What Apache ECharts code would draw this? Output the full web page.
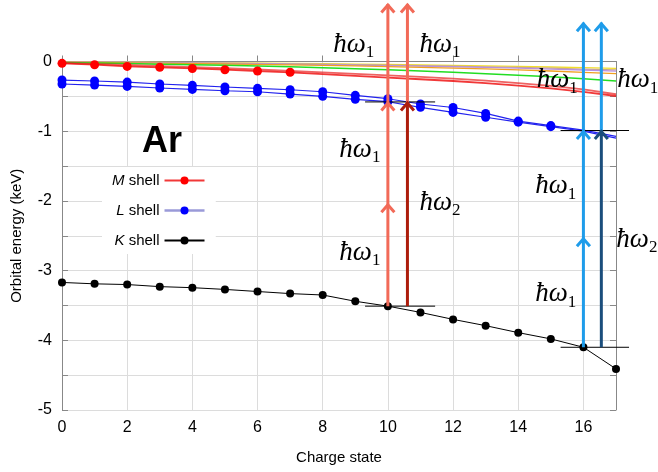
<!DOCTYPE html>
<html><head><meta charset="utf-8">
<script src="https://cdn.jsdelivr.net/npm/echarts@6/dist/echarts.min.js"></script>
<style>html,body{margin:0;padding:0;background:#fff}#c{width:658px;height:472px}</style>
</head><body><div id="c"></div>
<script>
// ---------- data ----------
const charge = [0,1,2,3,4,5,6,7,8,9,10,11,12,13,14,15,16,17];
const xTicks = [0,2,4,6,8,10,12,14,16];
const yTicks = [0,-1,-2,-3,-4,-5];

const K_shell = [-3.17,-3.19,-3.20,-3.23,-3.245,-3.27,-3.30,-3.33,-3.35,-3.44,-3.51,-3.60,-3.70,-3.79,-3.89,-3.98,-4.10,-4.41];
const L_upper = [-0.266,-0.28,-0.295,-0.323,-0.342,-0.366,-0.385,-0.405,-0.434,-0.486,-0.534,-0.61,-0.66,-0.745,-0.855,-0.92,-0.985,-1.075];
const L_lower = [-0.323,-0.338,-0.357,-0.38,-0.40,-0.42,-0.434,-0.467,-0.50,-0.543,-0.577,-0.658,-0.73,-0.80,-0.87,-0.935,-1.0,-1.10];
const L_pointCount = 16;
const M_main  = [-0.026,-0.046,-0.07,-0.083,-0.10,-0.118,-0.137,-0.155,-0.18,-0.205,-0.23,-0.255,-0.28,-0.31,-0.345,-0.385,-0.435,-0.495];
const M_other = [-0.02,-0.035,-0.05,-0.065,-0.08,-0.097,-0.115,-0.135,-0.155,-0.178,-0.20,-0.222,-0.245,-0.275,-0.31,-0.35,-0.40,-0.47];
const M_pointCount = 8;
const N_green  = [-0.015,-0.022,-0.03,-0.038,-0.046,-0.055,-0.065,-0.077,-0.09,-0.103,-0.118,-0.135,-0.155,-0.175,-0.197,-0.22,-0.248,-0.28];
const N_orange = [-0.01,-0.014,-0.019,-0.024,-0.03,-0.036,-0.042,-0.049,-0.056,-0.064,-0.073,-0.083,-0.094,-0.106,-0.12,-0.136,-0.155,-0.175];
const N_purple = [-0.005,-0.009,-0.013,-0.017,-0.022,-0.027,-0.032,-0.038,-0.044,-0.051,-0.058,-0.066,-0.075,-0.085,-0.096,-0.108,-0.122,-0.137];
const N_tan    = [-0.004,-0.007,-0.01,-0.014,-0.018,-0.022,-0.027,-0.032,-0.038,-0.044,-0.051,-0.058,-0.066,-0.075,-0.085,-0.096,-0.108,-0.12];
const N_yellow = [-0.004,-0.006,-0.009,-0.012,-0.015,-0.019,-0.023,-0.027,-0.032,-0.037,-0.042,-0.048,-0.055,-0.062,-0.07,-0.079,-0.089,-0.10];

// transitions (energies in keV)
const arrowX    = [10,    10.6,  10.6,  16,    16.55, 16.55];
const arrowFrom = [-3.51, -3.51, -0.58, -4.10, -4.10, -0.99];
const arrowTo   = [0.826, -0.58, 0.826, 0.557, -0.99, 0.557];
const headX = [10, 10, 10, 10.6, 10.6, 16, 16, 16, 16.55, 16.55];
const headY = [-2.04, -0.58, 0.826, -0.58, 0.826, -2.53, -0.99, 0.557, -0.99, 0.557];
const refX1 = [9.3, 9.3, 15.3, 15.3];
const refX2 = [11.45, 11.45, 17.4, 17.4];
const refY  = [-3.51, -0.58, -4.10, -0.99];

const labelX   = [8.95, 11.6, 9.14, 9.14, 11.6, 15.2, 17.67, 15.15, 15.15, 17.64];
const labelY   = [0.24, 0.24, -1.27, -2.74, -2.03, -0.27, -0.27, -1.79, -3.34, -2.56];
const labelSub = ['1','1','1','1','2','1','1','1','1','2'];

// ---------- styles ----------
const arrowColors = ['#f26a58','#ad1d0c','#f26a58','#1e9cea','#1b4e7c','#1e9cea'];
const headColors  = ['#f26a58','#f26a58','#f26a58','#ad1d0c','#f26a58','#1e9cea','#1e9cea','#1e9cea','#1b4e7c','#1e9cea'];
const SANS = 'Liberation Sans, Arial, Helvetica, sans-serif';
const SERIF = 'Liberation Serif, Times New Roman, DejaVu Serif, serif';

function pts(arr, count) {
  return charge.map((x, i) => count == null || i < count
    ? { value: [x, arr[i]] }
    : { value: [x, arr[i]], symbol: 'none' });
}
function thinLine(name, arr, color, width, opacity) {
  return { name, type: 'line', data: pts(arr), symbol: 'none', silent: true,
    lineStyle: { color, width, opacity: opacity == null ? 1 : opacity }, z: 2 };
}

const chart = echarts.init(document.getElementById('c'), null, { renderer: 'canvas' });
chart.setOption({
  animation: false,
  backgroundColor: '#fff',
  title: { text: 'Ar', left: 137, top: 119,
    textStyle: { fontFamily: SANS, fontWeight: 'bold', fontSize: 36, color: '#000' } },
  grid: { left: 62, right: 42, top: 61.5, bottom: 62, containLabel: false, outerBoundsMode: 'none' },
  legend: {
    data: [
      { name: 'M shell' },
      { name: 'L shell', lineStyle: { color: '#9a9ad8', width: 2.5 }, itemStyle: { color: '#0000ff' } },
      { name: 'K shell' }
    ],
    orient: 'vertical', align: 'right', left: 102, top: 167,
    itemWidth: 40, itemHeight: 10, itemGap: 15,
    backgroundColor: '#fff', padding: [6, 10, 6, 10],
    formatter: n => '{i|' + n.charAt(0) + '} ' + n.slice(2),
    textStyle: { fontFamily: SANS, fontSize: 15, color: '#000',
      rich: { i: { fontFamily: SANS, fontStyle: 'italic', fontSize: 15, color: '#000' } } }
  },
  xAxis: {
    type: 'value', min: 0, max: 17, interval: 2,
    name: 'Charge state', nameLocation: 'middle', nameGap: 40,
    nameTextStyle: { fontFamily: SANS, fontSize: 15, color: '#000' },
    axisLine: { show: true, lineStyle: { color: '#888', width: 1 } },
    axisTick: { show: true, inside: true, length: 6, lineStyle: { color: '#888' } },
    axisLabel: { fontFamily: SANS, fontSize: 16, color: '#000', margin: 10, showMaxLabel: false,
      formatter: v => xTicks.includes(v) ? String(v) : '' },
    splitLine: { show: true, lineStyle: { color: '#dcdcdc', width: 1 } }
  },
  yAxis: [{
    type: 'value', min: -5, max: 0, interval: 0.5,
    name: 'Orbital energy (keV)', nameLocation: 'middle', nameGap: 38, nameRotate: 90,
    nameTextStyle: { fontFamily: SANS, fontSize: 15, color: '#000' },
    axisLine: { show: true, lineStyle: { color: '#888', width: 1 } },
    axisTick: { show: true, inside: true, length: 6, lineStyle: { color: '#888' } },
    axisLabel: { fontFamily: SANS, fontSize: 16, color: '#000', margin: 10,
      formatter: v => yTicks.includes(v) ? String(v) : '' },
    splitLine: { show: true, lineStyle: { color: '#dcdcdc', width: 1 } }
  }, {
    type: 'value', min: -5, max: 0, interval: 0.5, position: 'right',
    axisLine: { show: true, lineStyle: { color: '#888', width: 1 } },
    axisTick: { show: true, inside: true, length: 6, lineStyle: { color: '#888' } },
    axisLabel: { show: false }, splitLine: { show: false }
  }],
  series: [
    thinLine('N yellow', N_yellow, '#f2de2a', 1.3),
    thinLine('N tan', N_tan, '#c9a98a', 1.2),
    thinLine('N purple', N_purple, '#b890e0', 1.3),
    thinLine('N orange', N_orange, '#f0a020', 1.3),
    thinLine('N green', N_green, '#22dd22', 1.5),
    thinLine('M other', M_other, '#e82020', 1.8, 0.7),
    { name: 'M shell', type: 'line', data: pts(M_main, M_pointCount), z: 3,
      symbol: 'circle', symbolSize: 9, showAllSymbol: true,
      itemStyle: { color: '#ff0000' }, lineStyle: { color: '#ee1515', width: 1.8, opacity: 0.85 } },
    { name: 'L shell', type: 'line', data: pts(L_upper, L_pointCount), z: 3,
      symbol: 'circle', symbolSize: 9, showAllSymbol: true,
      itemStyle: { color: '#0000ff' }, lineStyle: { color: '#2222ee', width: 1.2 } },
    { name: 'L shell', type: 'line', data: pts(L_lower, L_pointCount), z: 3,
      symbol: 'circle', symbolSize: 9, showAllSymbol: true,
      itemStyle: { color: '#0000ff' }, lineStyle: { color: '#2222ee', width: 1.2 } },
    { name: 'K shell', type: 'line', data: pts(K_shell), z: 3,
      symbol: 'circle', symbolSize: 8, showAllSymbol: true,
      itemStyle: { color: '#000' }, lineStyle: { color: '#000', width: 1 } },
    { name: 'refs', type: 'custom', clip: false, silent: true, z: 4,
      data: refY.map((y, i) => [refX1[i], refX2[i], y]),
      renderItem: (params, api) => {
        const a = api.coord([api.value(0), api.value(2)]);
        const b = api.coord([api.value(1), api.value(2)]);
        return { type: 'line', shape: { x1: a[0], y1: a[1], x2: b[0], y2: b[1] },
          style: { stroke: '#000', lineWidth: 1 } };
      } },
    { name: 'arrows', type: 'custom', clip: false, silent: true, z: 5,
      data: arrowX.map((x, i) => [x, arrowFrom[i], arrowTo[i]]),
      renderItem: (params, api) => {
        const a = api.coord([api.value(0), api.value(1)]);
        const b = api.coord([api.value(0), api.value(2)]);
        return { type: 'line', shape: { x1: a[0], y1: a[1], x2: b[0], y2: b[1] },
          style: { stroke: arrowColors[params.dataIndex], lineWidth: 3 } };
      } },
    { name: 'heads', type: 'custom', clip: false, silent: true, z: 6,
      data: headX.map((x, i) => [x, headY[i]]),
      renderItem: (params, api) => {
        const p = api.coord([api.value(0), api.value(1)]);
        return { type: 'polyline',
          shape: { points: [[p[0] - 6.5, p[1] + 8.5], [p[0], p[1] + 1], [p[0] + 6.5, p[1] + 8.5]] },
          style: { stroke: headColors[params.dataIndex], lineWidth: 3, fill: null, lineJoin: 'miter' } };
      } },
    { name: 'labels', type: 'custom', clip: false, silent: true, z: 7,
      data: labelX.map((x, i) => [x, labelY[i], labelSub[i]]),
      renderItem: (params, api) => {
        const p = api.coord([api.value(0), api.value(1)]);
        return { type: 'text', x: p[0], y: p[1],
          style: {
            text: '{a|\u0127\u03c9}{s|' + labelSub[params.dataIndex] + '}',
            align: 'center', verticalAlign: 'middle',
            rich: {
              a: { fontFamily: SERIF, fontStyle: 'italic', fontSize: 27, lineHeight: 27, verticalAlign: 'top', fill: '#000' },
              s: { fontFamily: SERIF, fontSize: 17, lineHeight: 17, padding: [13, 0, 0, 0], verticalAlign: 'top', fill: '#000' }
            }
          } };
      } }
  ]
});
</script>
</body></html>
